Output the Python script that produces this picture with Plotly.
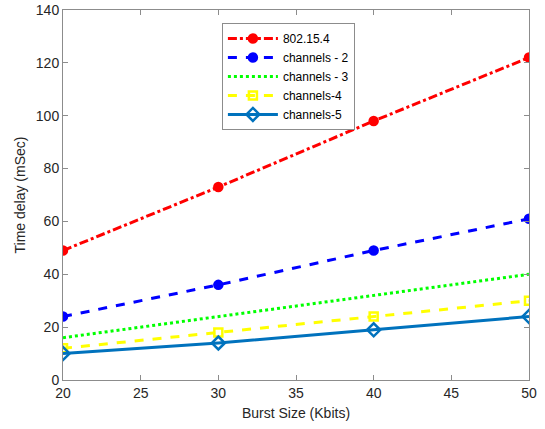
import plotly.graph_objects as go

burst = [20, 30, 40, 50]
s_802 = [49, 73, 98, 122]
s_ch2 = [24, 36, 49, 61]
s_ch3 = [16, 24, 32, 40]
s_ch4 = [12, 18, 24, 30]
s_ch5 = [10, 14, 19, 24]

series = [
    ("802.15.4", s_802, "#FF0000", "dashdot", "circle", 8),
    ("channels - 2", s_ch2, "#0000FF", "dash", "circle", 8),
    ("channels - 3", s_ch3, "#00FF00", "dot", None, 0),
    ("channels-4", s_ch4, "#FFFF00", "dash", "square-open", 8),
    ("channels-5", s_ch5, "#0072BD", "solid", "diamond-open", 10),
]

fig = go.Figure()
for name, ys, col, dash, sym, sz in series:
    if sym:
        mode = "lines+markers"
        marker = dict(symbol=sym, size=sz, color=col, line=dict(color=col, width=2.5))
    else:
        mode = "lines"
        marker = None
    fig.add_trace(go.Scatter(x=burst, y=ys, name=name, mode=mode,
                             line=dict(color=col, width=3, dash=dash),
                             marker=marker))

axis_common = dict(showline=True, linecolor="#8c8c8c", linewidth=1, mirror="ticks",
                   ticks="inside", ticklen=5, tickcolor="#8c8c8c", showgrid=False,
                   zeroline=False, automargin=False, tickfont=dict(size=14, color="#262626"))
fig.update_xaxes(range=[20, 50], dtick=5, title=dict(text="Burst Size (Kbits)", font=dict(size=14, color="#262626"), standoff=8), **axis_common)
fig.update_yaxes(range=[0, 140], dtick=20, title=dict(text="Time delay (mSec)", font=dict(size=14, color="#262626"), standoff=6), **axis_common)

fig.update_layout(
    width=545, height=429,
    margin=dict(l=63, r=16, t=10, b=49),
    paper_bgcolor="white", plot_bgcolor="white",
    font=dict(family="Liberation Sans, Arial, sans-serif", size=14, color="#262626"),
    showlegend=True,
    legend=dict(x=0.341, y=0.965, xanchor="left", yanchor="top",
                bordercolor="#8c8c8c", borderwidth=1, bgcolor="white",
                font=dict(size=12, color="#000000"), tracegroupgap=0,
                itemwidth=50),
)

fig.write_html("out.html", config={"displayModeBar": False},
               post_script="document.body.style.margin='0';document.body.style.overflow='hidden';")
